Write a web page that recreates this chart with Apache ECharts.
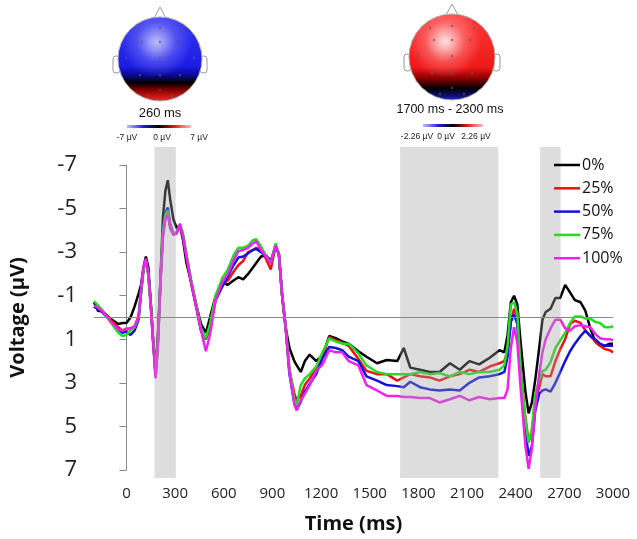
<!DOCTYPE html>
<html>
<head>
<meta charset="utf-8">
<script src="https://cdn.jsdelivr.net/npm/echarts@6/dist/echarts.min.js"></script>
<style>
  html, body { margin: 0; padding: 0; background: #fff; }
  #chart { width: 637px; height: 539px; }
</style>
</head>
<body>
<div id="chart"></div>
<script>
// time points (ms)
const times = [
  -200, -175, -150, -100, -50, -25, 0, 25, 50, 75,
  90, 105, 120, 135, 150, 165, 180, 195, 210, 225,
  240, 255, 270, 290, 310, 330, 350, 370, 400, 430,
  460, 490, 515, 550, 590, 625, 660, 690, 720, 750,
  780, 800, 830, 860, 890, 920, 940, 960, 980, 1005,
  1035, 1050, 1075, 1100, 1130, 1170, 1210, 1250, 1290, 1330,
  1370, 1430, 1480, 1545, 1605, 1670, 1710, 1750, 1810, 1870,
  1930, 1995, 2055, 2115, 2175, 2240, 2300, 2330, 2350, 2370,
  2390, 2410, 2430, 2460, 2480, 2500, 2520, 2545, 2565, 2585,
  2615, 2645, 2675, 2705, 2735, 2765, 2800, 2830, 2860, 2890,
  2920, 2950, 2980, 3000
];

// voltage (µV) per condition
const v0 = [
  -0.7, -0.3, -0.3, 0.05, 0.3, 0.25, 0.25, 0.0, -0.5, -1.1,
  -1.5, -2.3, -2.8, -2.3, -0.7, 1.1, 2.4, 0.6, -1.8, -4.6,
  -5.8, -6.3, -5.4, -4.5, -4.1, -4.25, -3.5, -2.5, -1.6, -0.6,
  0.3, 0.7, 0.0, -1.0, -1.6, -1.5, -1.7, -1.85, -1.75, -2.0,
  -2.3, -2.5, -2.8, -2.85, -2.6, -3.3, -2.9, -1.0, 0.4, 1.4,
  2.0, 2.2, 2.5, 2.0, 1.7, 2.0, 1.75, 0.85, 0.95, 1.1,
  1.2, 1.55, 1.8, 2.1, 1.95, 2.0, 1.4, 2.3, 2.4, 2.5,
  2.5, 2.1, 2.4, 2.0, 2.15, 1.85, 1.5, 1.6, 0.8, -0.7,
  -1.0, -0.6, 1.1, 3.4, 4.4, 3.9, 2.9, 1.4, 0.1, -0.25,
  -0.4, -0.9, -0.9, -1.5, -1.15, -0.8, -0.7, -0.3, 0.5, 1.1,
  1.3, 1.3, 1.2, 1.2
];
const v25 = [
  -0.5, -0.4, -0.3, 0.1, 0.45, 0.6, 0.55, 0.5, 0.45, -0.1,
  -1.2, -2.2, -2.6, -2.0, -0.6, 1.1, 2.6, 1.0, -1.7, -3.8,
  -4.6, -4.8, -4.1, -3.8, -3.9, -4.2, -3.6, -2.8, -1.5, -0.5,
  0.6, 1.0, 0.5, -0.9, -1.5, -1.7, -2.1, -2.4, -2.6, -3.0,
  -3.1, -3.2, -3.1, -2.7, -2.2, -3.3, -2.9, -1.0, 0.3, 2.4,
  3.5, 3.8, 3.6, 3.1, 2.8, 2.3, 1.72, 0.9, 1.05, 1.15,
  1.3, 1.9, 2.45, 2.6, 2.6, 2.9, 2.75, 2.6, 2.7, 2.75,
  2.9, 2.7, 2.6, 2.4, 2.5, 2.25, 2.1, 2.0, 1.5, 0.2,
  -0.4, -0.1, 2.4, 4.6, 5.7, 5.2, 3.8, 3.2, 2.6, 2.7,
  2.7, 2.0, 1.45, 1.0, 0.3, 0.15, 0.25, 0.6, 0.85, 1.1,
  1.3, 1.45, 1.5, 1.6
];
const v50 = [
  -0.5, -0.4, -0.25, 0.15, 0.55, 0.7, 0.65, 0.8, 0.6, 0.1,
  -1.1, -2.2, -2.65, -2.0, -0.6, 1.1, 2.7, 1.0, -1.7, -3.9,
  -4.8, -5.05, -4.3, -3.85, -3.9, -4.25, -3.7, -2.8, -1.6, -0.5,
  0.6, 0.95, 0.4, -0.8, -1.4, -1.9, -2.4, -2.75, -2.8, -2.95,
  -3.1, -3.15, -3.0, -2.8, -2.5, -3.3, -2.9, -1.0, 0.3, 2.6,
  3.9, 4.25, 3.85, 3.4, 3.05, 2.6, 1.85, 1.35, 1.4, 1.5,
  1.8, 2.0, 2.7, 2.9, 3.1, 3.15, 3.2, 2.95, 3.2, 3.3,
  3.35, 3.3, 3.35, 3.0, 2.75, 2.7, 2.6, 2.5, 1.8, 0.2,
  -0.15, 0.3, 2.6, 5.2, 6.35, 5.9, 4.3, 3.5, 3.35, 3.3,
  3.4, 3.0, 2.5, 2.0, 1.55, 1.2, 0.85, 0.6, 0.85, 1.0,
  1.2, 1.3, 1.3, 1.3
];
const v75 = [
  -0.75, -0.55, -0.35, 0.2, 0.7, 0.85, 0.8, 0.6, 0.45, 0.0,
  -1.2, -2.2, -2.6, -2.0, -0.6, 1.1, 2.7, 1.0, -1.7, -3.9,
  -4.7, -4.9, -4.2, -3.85, -3.9, -4.3, -3.8, -2.9, -1.7, -0.6,
  0.5, 0.95, 0.3, -1.0, -1.8, -2.2, -2.85, -3.2, -3.2, -3.3,
  -3.55, -3.6, -3.25, -2.85, -2.5, -3.4, -2.9, -1.0, 0.3, 2.3,
  3.8, 4.0, 3.1, 2.8, 2.6, 2.25, 1.57, 0.97, 1.1, 1.2,
  1.2, 1.65, 2.2, 2.5, 2.6, 2.6, 2.6, 2.6, 2.5, 2.6,
  2.55, 2.7, 2.5, 2.6, 2.5, 2.5, 2.4, 2.2, 1.3, -0.6,
  -0.7, -0.2, 2.4, 4.7, 5.75, 5.1, 3.5, 2.9, 2.45, 2.4,
  2.05, 1.4, 1.05, 0.7, 0.25, -0.05, -0.05, 0.05, 0.05, 0.2,
  0.25, 0.45, 0.45, 0.4
];
const v100 = [
  -0.55, -0.45, -0.3, 0.15, 0.55, 0.6, 0.5, 0.5, 0.4, 0.0,
  -1.3, -2.3, -2.7, -2.0, -0.5, 1.2, 2.8, 1.2, -1.6, -3.7,
  -4.5, -4.75, -4.15, -3.8, -3.85, -4.3, -3.7, -2.8, -1.6, -0.5,
  0.6, 1.55, 0.8, -0.8, -1.6, -2.0, -2.6, -3.05, -3.1, -3.2,
  -3.4, -3.5, -3.1, -2.8, -2.5, -3.3, -2.9, -1.0, 0.3, 2.5,
  4.0, 4.25, 3.8, 3.5, 3.1, 2.45, 2.15, 1.5, 1.6, 1.6,
  2.0, 2.2, 3.1, 3.35, 3.6, 3.6, 3.65, 3.65, 3.7, 3.7,
  3.9, 3.75, 3.6, 3.8, 3.65, 3.75, 3.7, 3.7, 3.3, 1.4,
  0.45, 1.15, 3.2, 5.9, 6.95, 6.0, 4.2, 2.6, 1.6, 1.0,
  0.5, 0.1, 0.1, 0.5, 0.6, 0.4, 0.35, 0.4, 0.45, 0.75,
  0.95, 1.0, 1.0, 1.05
];

const seriesNames = ['0%', '25%', '50%', '75%', '100%'];
const seriesValues = [v0, v25, v50, v75, v100];
const seriesColors = ['#000000', '#ee1111', '#1111dd', '#22dd22', '#ee22ee'];

const xTicks = [0, 300, 600, 900, 1200, 1500, 1800, 2100, 2400, 2700, 3000];
const yTicks = [-7, -5, -3, -1, 1, 3, 5, 7];

// shaded time windows (ms)
const windows = [[200, 330], [1700, 2300], [2555, 2680]];

const chart = echarts.init(document.getElementById('chart'), null, { renderer: 'canvas' });

const FONT = 'Open Sans';
const HEADFONT = 'Liberation Sans';

// topographic head drawing
function head(cx, cy, r, baseStops, hx, hy, hiColor, dots) {
  const els = [];
  els.push({
    type: 'polyline', shape: { points: [[cx - 7, cy - r + 3], [cx, cy - r - 10], [cx + 7, cy - r + 3]] },
    style: { stroke: '#999', lineWidth: 1, fill: '#fff' }
  });
  els.push({ type: 'rect', shape: { x: cx - r - 5, y: cy - 3, width: 7, height: 17, r: 3 }, style: { fill: '#fff', stroke: '#999', lineWidth: 1 } });
  els.push({ type: 'rect', shape: { x: cx + r - 2, y: cy - 3, width: 7, height: 17, r: 3 }, style: { fill: '#fff', stroke: '#999', lineWidth: 1 } });
  els.push({
    type: 'circle', shape: { cx: cx, cy: cy, r: r },
    style: { fill: { type: 'linear', x: 0, y: 0, x2: 0, y2: 1, colorStops: baseStops }, stroke: '#aaa', lineWidth: 1 }
  });
  els.push({
    type: 'circle', shape: { cx: cx, cy: cy, r: r },
    style: {
      fill: {
        type: 'radial', x: hx, y: hy, r: 0.42, colorStops: [
          { offset: 0, color: hiColor + '0.92)' },
          { offset: 0.2, color: hiColor + '0.7)' },
          { offset: 0.55, color: hiColor + '0.25)' },
          { offset: 1, color: hiColor + '0)' }
        ]
      }
    }
  });
  dots.forEach(function (d) {
    els.push({ type: 'circle', shape: { cx: cx + d[0], cy: cy + d[1], r: 1.2 }, style: { fill: 'rgba(90,90,90,0.7)' } });
  });
  return els;
}

function colorbar(x, y, w) {
  return {
    type: 'rect', shape: { x: x, y: y, width: w, height: 3 },
    style: {
      fill: {
        type: 'linear', x: 0, y: 0, x2: 1, y2: 0, colorStops: [
          { offset: 0, color: 'rgba(80,80,255,0.4)' },
          { offset: 0.25, color: '#2020e0' },
          { offset: 0.5, color: '#000000' },
          { offset: 0.75, color: '#e02020' },
          { offset: 1, color: 'rgba(255,80,80,0.4)' }
        ]
      }
    }
  };
}

const dots = [[0, -31], [0, -17], [0, -1], [0, 16], [0, 31], [-22, -29], [22, -29], [-18, -17], [18, -17],
  [-34, -1], [34, -1], [-20, 16], [20, 16], [-12, 37], [12, 37]];

const blueHead = [
  { offset: 0, color: '#3535f2' }, { offset: 0.58, color: '#1c1ce6' }, { offset: 0.68, color: '#0a0aa0' },
  { offset: 0.78, color: '#000000' }, { offset: 0.87, color: '#8a0000' }, { offset: 1, color: '#ff2a2a' }
];
const redHead = [
  { offset: 0, color: '#ff3a3a' }, { offset: 0.62, color: '#f01818' }, { offset: 0.74, color: '#900000' },
  { offset: 0.86, color: '#000000' }, { offset: 0.95, color: '#10107a' }, { offset: 1, color: '#2a2ae0' }
];

const graphics = []
  .concat(head(160, 59, 42, blueHead, 0.46, 0.3, 'rgba(200,200,255,', dots))
  .concat(head(452, 57, 43, redHead, 0.42, 0.32, 'rgba(255,240,240,', dots))
  .concat([
    { type: 'text', x: 160, y: 113, style: { text: '260 ms', font: '13px "' + HEADFONT + '"', fill: '#111', align: 'center', verticalAlign: 'middle' } },
    colorbar(127, 125, 64),
    { type: 'text', x: 127, y: 138, style: { text: '-7 µV', font: '8.5px "' + HEADFONT + '"', fill: '#222', align: 'center', verticalAlign: 'middle' } },
    { type: 'text', x: 162, y: 138, style: { text: '0 µV', font: '8.5px "' + HEADFONT + '"', fill: '#222', align: 'center', verticalAlign: 'middle' } },
    { type: 'text', x: 199, y: 138, style: { text: '7 µV', font: '8.5px "' + HEADFONT + '"', fill: '#222', align: 'center', verticalAlign: 'middle' } },
    { type: 'text', x: 450, y: 110, style: { text: '1700 ms - 2300 ms', font: '12.5px "' + HEADFONT + '"', fill: '#111', align: 'center', verticalAlign: 'middle' } },
    colorbar(423, 124, 60),
    { type: 'text', x: 417, y: 137, style: { text: '-2.26 µV', font: '8.5px "' + HEADFONT + '"', fill: '#222', align: 'center', verticalAlign: 'middle' } },
    { type: 'text', x: 446, y: 137, style: { text: '0 µV', font: '8.5px "' + HEADFONT + '"', fill: '#222', align: 'center', verticalAlign: 'middle' } },
    { type: 'text', x: 476, y: 137, style: { text: '2.26 µV', font: '8.5px "' + HEADFONT + '"', fill: '#222', align: 'center', verticalAlign: 'middle' } }
  ]);

const lineSeries = seriesNames.map(function (name, i) {
  return {
    name: name,
    type: 'line',
    xAxisIndex: 0,
    yAxisIndex: 0,
    symbol: 'none',
    smooth: false,
    z: 2,
    lineStyle: { width: 2.5, color: seriesColors[i] },
    itemStyle: { color: seriesColors[i] },
    data: times.map(function (t, k) { return [t, seriesValues[i][k]]; })
  };
});

// zero line
lineSeries[0].markLine = {
  silent: true,
  symbol: 'none',
  label: { show: false },
  lineStyle: { color: '#8a8a8a', width: 1, type: 'solid' },
  z: 5,
  data: [{ yAxis: 0 }]
};

const option = {
  animation: false,
  backgroundColor: '#fff',
  textStyle: { fontFamily: FONT },
  graphic: graphics,
  legend: {
    data: seriesNames,
    orient: 'vertical',
    left: 549,
    top: 151,
    icon: 'rect',
    itemWidth: 26,
    itemHeight: 2.5,
    itemGap: 5.3,
    textStyle: { fontSize: 16, lineHeight: 18, color: '#111', fontFamily: FONT, padding: [0, 0, 0, -3] }
  },
  grid: [
    { left: 89, right: 24, top: 165, bottom: 61 },
    { left: 89, right: 24, top: 147, bottom: 61 }
  ],
  xAxis: [
    {
      type: 'value', gridIndex: 0, min: -200, max: 3000,
      name: 'Time (ms)', nameLocation: 'middle', nameGap: 44,
      nameTextStyle: { fontSize: 20, fontWeight: 'bold', color: '#111', fontFamily: FONT },
      axisLine: { show: false },
      axisTick: { show: false },
      splitLine: { show: false },
      axisLabel: {
        customValues: xTicks, fontSize: 15, color: '#222', margin: 16, fontFamily: FONT,
        formatter: function (v) { return String(v); }
      }
    },
    {
      type: 'value', gridIndex: 1, min: -200, max: 3000, show: false
    }
  ],
  yAxis: [
    {
      type: 'value', gridIndex: 0, min: -7, max: 7, inverse: true,
      name: 'Voltage (µV)', nameLocation: 'middle', nameGap: 66, nameRotate: 90,
      nameTextStyle: { fontSize: 20, fontWeight: 'bold', color: '#111', fontFamily: FONT },
      axisLine: { show: true, lineStyle: { color: '#8a8a8a', width: 1 } },
      axisTick: { show: true, customValues: yTicks, length: 7, lineStyle: { color: '#8a8a8a' } },
      splitLine: { show: false },
      axisLabel: { customValues: yTicks, fontSize: 22, color: '#222', margin: 17, fontFamily: FONT }
    },
    {
      type: 'value', gridIndex: 1, min: 0, max: 1, show: false
    }
  ],
  series: lineSeries.concat([{
    name: 'windows',
    type: 'line',
    xAxisIndex: 1,
    yAxisIndex: 1,
    data: [],
    silent: true,
    markArea: {
      silent: true,
      z: 3,
      itemStyle: { color: 'rgba(160,160,160,0.36)' },
      data: windows.map(function (w) { return [{ xAxis: w[0], yAxis: 0 }, { xAxis: w[1], yAxis: 1 }]; })
    }
  }])
};

chart.setOption(option);
</script>
</body>
</html>
